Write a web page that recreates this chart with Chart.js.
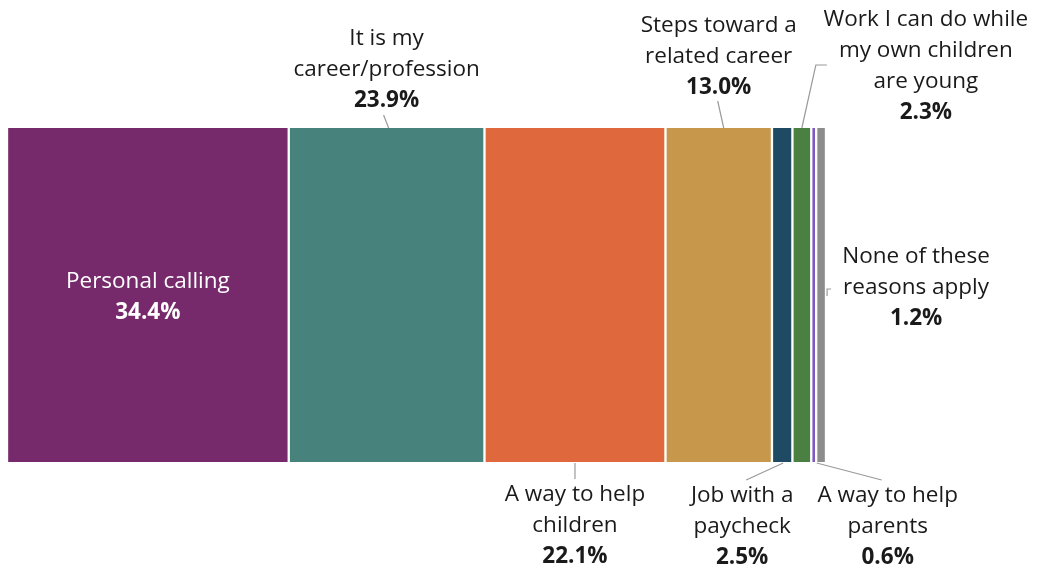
<!DOCTYPE html>
<html>
<head>
<meta charset="utf-8">
<script src="https://cdn.jsdelivr.net/npm/chart.js@4"></script>
<style>
  html, body { margin: 0; padding: 0; background: #fff; }
  #wrap { width: 1042px; height: 571px; position: relative; }
</style>
</head>
<body>
<div id="wrap"><canvas id="c"></canvas></div>
<script>
// ---- Data ----
const categories = [
  "Personal calling",
  "It is my career/profession",
  "A way to help children",
  "Steps toward a related career",
  "Job with a paycheck",
  "Work I can do while my own children are young",
  "A way to help parents",
  "None of these reasons apply"
];
const values = [34.4, 23.9, 22.1, 13.0, 2.5, 2.3, 0.6, 1.2];
const labelLines = [
  ["Personal calling"],
  ["It is my", "career/profession"],
  ["A way to help", "children"],
  ["Steps toward a", "related career"],
  ["Job with a", "paycheck"],
  ["Work I can do while", "my own children", "are young"],
  ["A way to help", "parents"],
  ["None of these", "reasons apply"]
];
const colors = ["#772A6B", "#47827C", "#DF693C", "#C7974B", "#1F4A64", "#4B8043", "#7E57C2", "#8C8C8C"];

// ---- Label placement styles (pixel offsets relative to segment/bar) ----
const placement = [
  { side: "inside", dx: 0, dy: -13, color: "#fff" },
  { side: "top", dx: 0, lastOffset: 27, leader: [[-3, -13], [2, 0]] },
  { side: "bottom", dx: 0, firstOffset: 33, leader: [[0, 1], [0, 17]] },
  { side: "top", dx: 0, lastOffset: 40, leader: [[-1, -27], [5, 0]] },
  { side: "bottom", dx: -40, firstOffset: 34, leader: [[1, 1], [-36, 18]] },
  { side: "top", dx: 124, lastOffset: 15, leader: [[0, 0], [14, -63], [25, -63]] },
  { side: "bottom", dx: 74, firstOffset: 34, leader: [[3, 1], [68, 18]] },
  { side: "middle", dx: 95, dy: -38, leader: [[6, 1], [6, -6], [10, -6]] }
];

const FONT = '"Open Sans", "Noto Sans", sans-serif';
const FS = 22.5;
const LH = 31;

const labelPlugin = {
  id: "segLabels",
  afterDatasetsDraw(chart) {
    const ctx = chart.ctx;
    const xs = chart.scales.x;
    const area = chart.chartArea;
    const top = area.top, bottom = area.bottom;
    let cum = 0;
    ctx.save();
    ctx.textAlign = "center";
    ctx.textBaseline = "middle";
    values.forEach((v, i) => {
      const cx = xs.getPixelForValue(cum + v / 2);
      cum += v;
      const p = placement[i];
      const lines = labelLines[i].slice();
      const pct = v.toFixed(1) + "%";
      const n = lines.length + 1;
      let firstY;
      if (p.side === "inside") firstY = (top + bottom) / 2 + p.dy;
      else if (p.side === "top") firstY = top - p.lastOffset - (n - 1) * LH;
      else if (p.side === "bottom") firstY = bottom + p.firstOffset;
      else firstY = (top + bottom) / 2 + p.dy;
      const tx = cx + p.dx;
      ctx.fillStyle = p.color || "#1a1a1a";
      ctx.font = FS + "px " + FONT;
      lines.forEach((l, k) => ctx.fillText(l, tx, firstY + k * LH));
      ctx.font = "bold " + FS + "px " + FONT;
      ctx.fillText(pct, tx, firstY + lines.length * LH);
      if (p.leader) {
        const baseY = p.side === "bottom" ? bottom : (p.side === "top" ? top : (top + bottom) / 2);
        ctx.strokeStyle = "#9a9a9a";
        ctx.lineWidth = 1.2;
        ctx.beginPath();
        p.leader.forEach((pt, k) => {
          const X = cx + pt[0], Y = baseY + pt[1];
          if (k === 0) ctx.moveTo(X, Y); else ctx.lineTo(X, Y);
        });
        ctx.stroke();
      }
    });
    ctx.restore();
  }
};

const datasets = values.map((v, i) => ({
  label: categories[i],
  data: [v],
  backgroundColor: colors[i],
  borderColor: "#ffffff",
  borderWidth: { left: 1.5, right: 1.5, top: 0, bottom: 0 },
  borderSkipped: false,
  barPercentage: 1,
  categoryPercentage: 1
}));

new Chart(document.getElementById("c"), {
  type: "bar",
  data: { labels: [""], datasets },
  options: {
    indexAxis: "y",
    responsive: true,
    maintainAspectRatio: false,
    animation: false,
    layout: { padding: { top: 128, bottom: 109, left: 7, right: 216 } },
    scales: {
      x: { stacked: true, min: 0, max: 100, display: false },
      y: { stacked: true, display: false }
    },
    plugins: { legend: { display: false }, tooltip: { enabled: false } }
  },
  plugins: [labelPlugin]
});
</script>
</body>
</html>
